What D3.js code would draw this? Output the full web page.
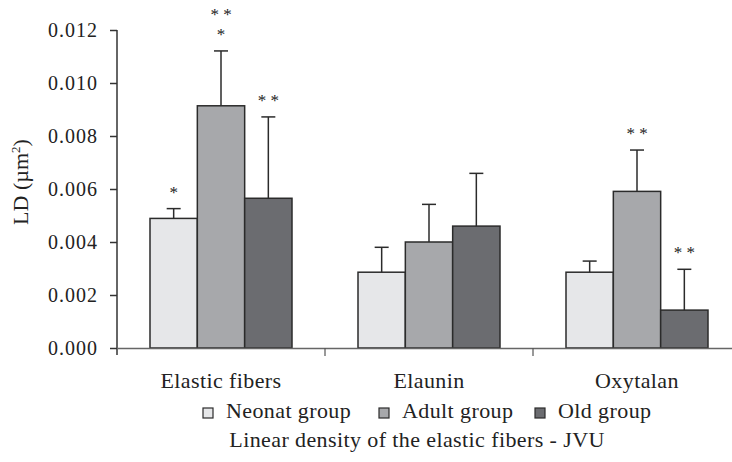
<!DOCTYPE html>
<html>
<head>
<meta charset="utf-8">
<script src="https://cdn.jsdelivr.net/npm/d3@7"></script>
<style>
  body { margin: 0; background: #fff; }
  svg { display: block; }
  svg text { font-family: "Liberation Serif", serif; fill: #222; }
</style>
</head>
<body>
<div id="chart"></div>
<script>
const categories = ["Elastic fibers", "Elaunin", "Oxytalan"];
const groups = ["Neonat group", "Adult group", "Old group"];
// mean LD per category, one array per group
const neonat = [0.00489, 0.00286, 0.00286];
const adult  = [0.00914, 0.00400, 0.00591];
const old    = [0.00565, 0.00460, 0.00143];
// upper error bar end
const neonatErr = [0.00526, 0.00380, 0.00328];
const adultErr  = [0.01121, 0.00542, 0.00747];
const oldErr    = [0.00872, 0.00659, 0.00297];
// significance marks, bottom line first
const neonatSig = [["*"], [], []];
const adultSig  = [["*", "* *"], [], ["* *"]];
const oldSig    = [["* *"], [], ["* *"]];
const yTicks = [0, 0.002, 0.004, 0.006, 0.008, 0.010, 0.012];
const colors = ["#e6e7e9", "#a7a8ab", "#6b6c70"];

const width = 732, height = 462;
const values = [neonat, adult, old];
const errs = [neonatErr, adultErr, oldErr];
const sigs = [neonatSig, adultSig, oldSig];

const rows = [];
categories.forEach((c, i) => {
    groups.forEach((g, j) => {
        rows.push({ cat: c, group: g, gi: j, v: values[j][i], e: errs[j][i], sig: sigs[j][i] });
    });
});

const svg = d3.select("#chart")
              .append("svg")
              .attr("width", width)
              .attr("height", height);

const x = d3.scaleBand().domain(categories).range([117, 741]).padding(0);
const x1 = d3.scaleBand().domain(groups).range([33, 175]).padding(0);
const y = d3.scaleLinear().domain([0, 0.012]).range([348, 30]);

// Bars
svg.selectAll("rect.bar")
   .data(rows)
   .join("rect")
   .attr("class", "bar")
   .attr("x", d => x(d.cat) + x1(d.group))
   .attr("y", d => y(d.v))
   .attr("width", x1.bandwidth())
   .attr("height", d => y(0) - y(d.v))
   .attr("fill", d => colors[d.gi])
   .attr("stroke", "#2b2b2b")
   .attr("stroke-width", 1.5);

// Error bars
const eb = svg.selectAll("g.err")
              .data(rows)
              .join("g")
              .attr("class", "err")
              .attr("stroke", "#2b2b2b")
              .attr("stroke-width", 1.5);
eb.append("line")
  .attr("x1", d => x(d.cat) + x1(d.group) + x1.bandwidth() / 2)
  .attr("x2", d => x(d.cat) + x1(d.group) + x1.bandwidth() / 2)
  .attr("y1", d => y(d.v))
  .attr("y2", d => y(d.e));
eb.append("line")
  .attr("x1", d => x(d.cat) + x1(d.group) + x1.bandwidth() / 2 - 7)
  .attr("x2", d => x(d.cat) + x1(d.group) + x1.bandwidth() / 2 + 7)
  .attr("y1", d => y(d.e))
  .attr("y2", d => y(d.e));

// Significance stars
rows.forEach(d => {
    d.sig.forEach((s, k) => {
        svg.append("text")
           .attr("x", x(d.cat) + x1(d.group) + x1.bandwidth() / 2)
           .attr("y", y(d.e) - 11 - 20 * k)
           .attr("text-anchor", "middle")
           .attr("font-size", 17)
           .text(s);
    });
});

// Y axis
const yAxis = svg.append("g")
   .attr("transform", "translate(117,0)")
   .call(d3.axisLeft(y).tickValues(yTicks).tickFormat(d3.format(".3f")).tickSize(7).tickPadding(12).tickSizeOuter(0))
   .attr("font-family", null);
yAxis.select(".domain").attr("stroke", "#333").attr("stroke-width", 1.5).attr("d", "M0,30V355");
yAxis.selectAll(".tick line").attr("stroke", "#333").attr("stroke-width", 1.5);
yAxis.selectAll(".tick text").attr("font-size", 20).attr("letter-spacing", 1);

// X axis
const xAxis = svg.append("g")
   .attr("transform", "translate(0,348)")
   .call(d3.axisBottom(x).tickSize(0).tickPadding(24))
   .attr("font-family", null);
xAxis.select(".domain").attr("stroke", "#666").attr("stroke-width", 1.5);
xAxis.selectAll(".tick text").attr("font-size", 22).attr("letter-spacing", 0.4);
svg.append("g")
   .selectAll("line")
   .data(categories.slice(1))
   .join("line")
   .attr("x1", d => x(d))
   .attr("x2", d => x(d))
   .attr("y1", 348)
   .attr("y2", 356)
   .attr("stroke", "#555")
   .attr("stroke-width", 1.2);

// Y label
svg.append("text")
   .attr("transform", "translate(28,182) rotate(-90)")
   .attr("text-anchor", "middle")
   .attr("font-size", 22)
   .html("LD (µm<tspan dy='-8' font-size='13'>2</tspan><tspan dy='8'>)</tspan>");

// Legend
const legendX = [203, 379, 535];
const lg = svg.append("g")
   .selectAll("g")
   .data(groups)
   .join("g")
   .attr("transform", (d, i) => `translate(${legendX[i]},408)`);
lg.append("rect")
  .attr("width", 10).attr("height", 10)
  .attr("fill", (d, i) => colors[i])
  .attr("stroke", "#2b2b2b").attr("stroke-width", 1.2);
lg.append("text")
  .attr("x", 23).attr("y", 10)
  .attr("font-size", 22)
  .attr("letter-spacing", 0.4)
  .text(d => d);

// Title
svg.append("text")
   .attr("x", 417)
   .attr("y", 447)
   .attr("text-anchor", "middle")
   .attr("font-size", 22)
   .attr("letter-spacing", 0.4)
   .text("Linear density of the elastic fibers - JVU");
</script>
</body>
</html>
